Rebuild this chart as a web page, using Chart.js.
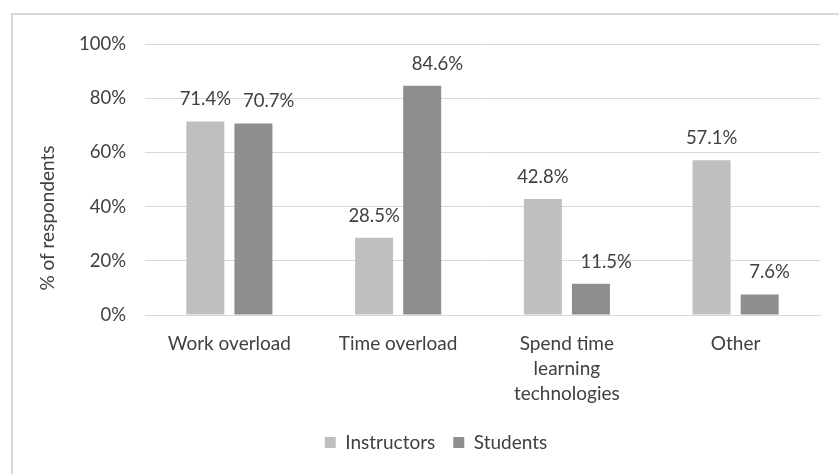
<!DOCTYPE html>
<html>
<head>
<meta charset="utf-8">
<script src="https://cdn.jsdelivr.net/npm/chart.js@4/dist/chart.umd.min.js"></script>
<style>
    html, body {
        margin: 0;
        padding: 0;
        background: #fff;
    }
    #frame {
        position: absolute;
        left: 11px;
        top: 13px;
        width: 900px;
        height: 520px;
        border-top: 2px solid #d9d9d9;
        border-left: 2px solid #d9d9d9;
    }
    #barChart {
        position: absolute;
        left: 0;
        top: 0;
    }
</style>
</head>
<body>
<div id="frame"></div>
<canvas id="barChart" width="839" height="474"></canvas>
<script>
const categories = ['Work overload', 'Time overload', ['Spend time', 'learning', 'technologies'], 'Other'];
const instructors = [71.4, 28.5, 42.8, 57.1];
const students = [70.7, 84.6, 11.5, 7.6];
const yTicks = [0, 20, 40, 60, 80, 100];
const yTitle = '% of respondents';

const FONT = 'Lato, "Open Sans", sans-serif';
const TEXT = '#404040';

Chart.defaults.font.family = FONT;
Chart.defaults.font.size = 19;
Chart.defaults.color = TEXT;

// writes the value above each bar, pushing a label right if it would hit its neighbour
const valueLabels = {
    id: 'valueLabels',
    afterDatasetsDraw(chart) {
        const ctx = chart.ctx;
        ctx.save();
        ctx.font = '18.5px ' + FONT;
        ctx.fillStyle = TEXT;
        ctx.textAlign = 'center';
        ctx.textBaseline = 'middle';
        const n = chart.data.labels.length;
        for (let j = 0; j < n; j++) {
            let prevRight = -Infinity;
            chart.data.datasets.forEach((ds, i) => {
                const bar = chart.getDatasetMeta(i).data[j];
                const txt = ds.data[j].toFixed(1) + '%';
                const w = ctx.measureText(txt).width;
                let x = bar.x;
                if (x - w / 2 < prevRight + 12) x = prevRight + 12 + w / 2;
                ctx.fillText(txt, x, bar.y - 22);
                prevRight = x + w / 2;
            });
        }
        ctx.restore();
    }
};

// rotated y axis title, sitting in the lower part of the plot height
const axisTitle = {
    id: 'axisTitle',
    afterDraw(chart) {
        const ctx = chart.ctx;
        const area = chart.chartArea;
        ctx.save();
        ctx.font = '19px ' + FONT;
        ctx.fillStyle = TEXT;
        ctx.textAlign = 'center';
        ctx.textBaseline = 'middle';
        ctx.translate(48, area.bottom - 97);
        ctx.rotate(-Math.PI / 2);
        ctx.fillText(yTitle, 0, 0);
        ctx.restore();
    }
};

const ctx = document.getElementById('barChart').getContext('2d');

new Chart(ctx, {
    type: 'bar',
    data: {
        labels: categories,
        datasets: [{
            label: 'Instructors',
            data: instructors,
            backgroundColor: '#bfbfbf',
            categoryPercentage: 0.57,
            barPercentage: 0.79
        }, {
            label: 'Students',
            data: students,
            backgroundColor: '#8e8e8e',
            categoryPercentage: 0.57,
            barPercentage: 0.79
        }]
    },
    options: {
        responsive: false,
        animation: false,
        layout: {
            padding: { left: 52, right: 19, top: 44, bottom: 12 }
        },
        plugins: {
            tooltip: { enabled: false },
            legend: {
                position: 'bottom',
                labels: {
                    boxWidth: 11,
                    boxHeight: 11,
                    padding: 18,
                    font: { size: 19 }
                }
            }
        },
        scales: {
            x: {
                grid: { display: false },
                border: { color: '#d9d9d9' },
                ticks: { padding: 9, font: { size: 19, lineHeight: 1.3 } },
                afterFit: (scale) => { scale.height = 100; }
            },
            y: {
                min: 0,
                max: 100,
                afterBuildTicks: (scale) => {
                    scale.ticks = yTicks.map(v => ({ value: v }));
                },
                grid: { color: '#d9d9d9', drawTicks: false },
                border: { display: false },
                ticks: {
                    padding: 19,
                    font: { size: 18.5 },
                    callback: (v) => v + '%'
                },
                afterFit: (scale) => { scale.width = 93; }
            }
        }
    },
    plugins: [valueLabels, axisTitle]
});
</script>
</body>
</html>
